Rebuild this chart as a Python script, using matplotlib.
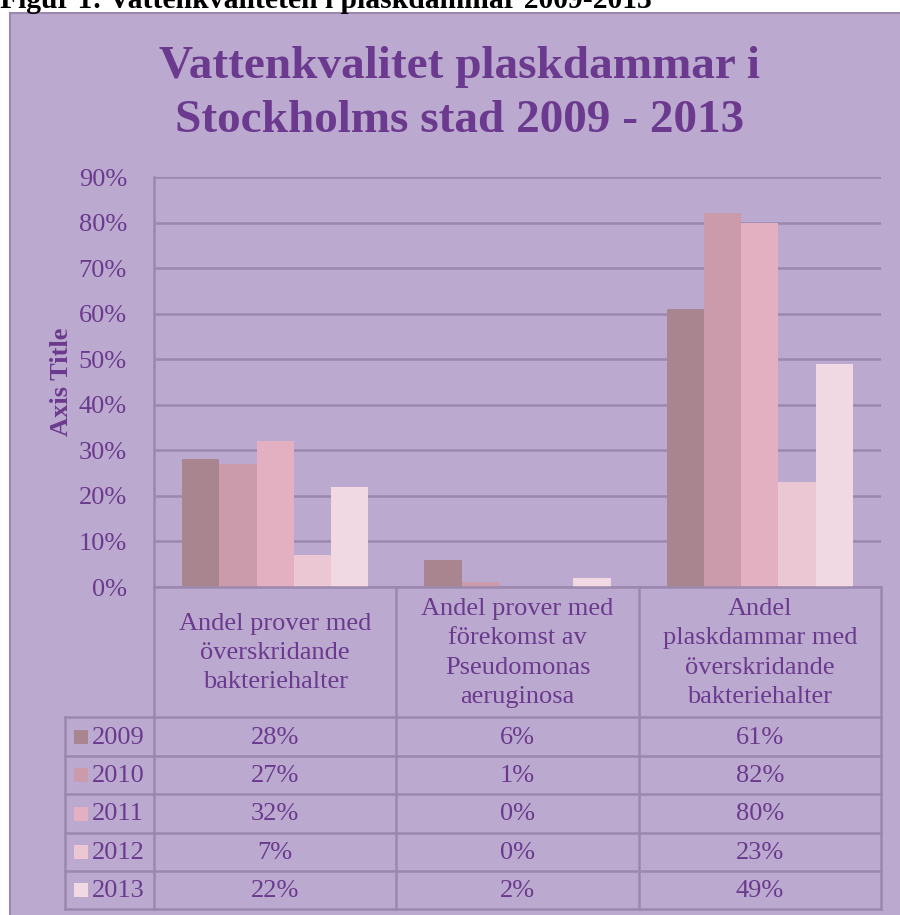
import matplotlib
matplotlib.use("Agg")
import matplotlib.pyplot as plt
from matplotlib.patches import Rectangle
from matplotlib.lines import Line2D
from matplotlib.transforms import blended_transform_factory
import numpy as np

# ---------------- data ----------------
categories = [
    "Andel prover med\növerskridande\nbakteriehalter",
    "Andel prover med\nförekomst av\nPseudomonas\naeruginosa",
    "Andel\nplaskdammar med\növerskridande\nbakteriehalter",
]
years = ["2009", "2010", "2011", "2012", "2013"]
v2009 = [28, 6, 61]
v2010 = [27, 1, 82]
v2011 = [32, 0, 80]
v2012 = [7, 0, 23]
v2013 = [22, 2, 49]
series = [v2009, v2010, v2011, v2012, v2013]
yticks = [0, 10, 20, 30, 40, 50, 60, 70, 80, 90]
chart_title = "Vattenkvalitet plaskdammar i\nStockholms stad 2009 - 2013"
figure_caption = "Figur 1: Vattenkvaliteten i plaskdammar 2009-2013"
axis_title = "Axis Title"

# ---------------- style ----------------
W, H = 900, 915
BG = "#BBA9CF"
GRID = "#9C88AF"
TXT = "#6B3A8E"
colors = ["#A98590", "#CB9BAB", "#E2B0C1", "#EBC6D3", "#F0D9E2"]
FONT = "Liberation Serif"
FS = 19

plt.rcParams["font.family"] = [FONT, "DejaVu Serif"]

fig = plt.figure(figsize=(W / 100, H / 100), dpi=100, facecolor="white")

def fx(px):
    return px / W

def fy(py):
    return 1 - py / H

# chart area background with border
fig.add_artist(Rectangle((fx(9.5), fy(H + 5)), fx(W), (H + 5 - 12.5) / H,
                         transform=fig.transFigure, facecolor=BG,
                         edgecolor=GRID, linewidth=1.5, zorder=0))

# caption above the chart (partly above the top edge, as in the source)
fig.text(fx(0), fy(8), figure_caption, fontsize=21.3, fontweight="bold",
         color="black", ha="left", va="baseline", family=FONT)

# chart title
fig.text(fx(460), fy(94), chart_title, fontsize=34, fontweight="bold",
         color=TXT, ha="center", va="center", linespacing=1.35, family=FONT)

# plot axes
L, R, T, B = 154, 881, 177, 587
ax = fig.add_axes([fx(L), fy(B), fx(R - L), (B - T) / H])
ax.set_facecolor("none")
n = len(categories)
x = np.arange(n)
bw = 0.154
for i, (vals, c) in enumerate(zip(series, colors)):
    ax.bar(x + (i - 2) * bw, vals, width=bw, color=c, zorder=3, linewidth=0)
ax.set_xlim(-0.5, n - 0.5)
ax.set_ylim(0, 90)
ax.set_yticks(yticks)
ax.set_yticklabels([f"{t}%" for t in yticks], fontsize=FS, color=TXT)
ax.tick_params(axis="y", length=0, pad=19.5)
ax.set_xticks([])
ax.yaxis.grid(True, color=GRID, linewidth=1.8, zorder=0)
for s in ["top", "right", "bottom"]:
    ax.spines[s].set_visible(False)
ax.spines["left"].set_color(GRID)
ax.spines["left"].set_linewidth(1.8)
ax.set_ylabel(axis_title, fontsize=FS, fontweight="bold", color=TXT, labelpad=0)
ax.yaxis.set_label_coords((73 - L) / (R - L), 0.5)

# ---------------- data table ----------------
bt = blended_transform_factory(ax.transData, fig.transFigure)
row_edges = [B, 717, 756, 794, 833, 871, 909]
lc = GRID
lw = 1.8
for b in np.arange(-0.5, n, 1.0):
    fig.add_artist(Line2D([b, b], [fy(B), fy(row_edges[-1])], transform=bt,
                          color=lc, lw=lw, zorder=5))
fig.add_artist(Line2D([fx(65), fx(65)], [fy(row_edges[1]), fy(row_edges[-1])],
                      transform=fig.transFigure, color=lc, lw=lw, zorder=5))
fig.add_artist(Line2D([-0.5, n - 0.5], [fy(B), fy(B)], transform=bt,
                      color=lc, lw=lw, zorder=5))
for yy in row_edges[1:]:
    fig.add_artist(Line2D([fx(65), fx(R)], [fy(yy), fy(yy)],
                          transform=fig.transFigure, color=lc, lw=lw, zorder=5))

# header labels
hy = (row_edges[0] + row_edges[1]) / 2
for i, cat in enumerate(categories):
    fig.text(i, fy(hy + 1), cat, transform=bt, ha="center", va="center",
             fontsize=FS, color=TXT, linespacing=1.42, family=FONT)

# rows
for r, (yr, vals, c) in enumerate(zip(years, series, colors)):
    cy = (row_edges[r + 1] + row_edges[r + 2]) / 2
    fig.add_artist(Rectangle((fx(74), fy(cy + 7)), fx(14), 14 / H,
                             transform=fig.transFigure, facecolor=c,
                             edgecolor="none", zorder=6))
    fig.text(fx(92), fy(cy + 1), yr, ha="left", va="center", fontsize=FS,
             color=TXT, family=FONT)
    for i, v in enumerate(vals):
        fig.text(i, fy(cy + 1), f"{v}%", transform=bt, ha="center",
                 va="center", fontsize=FS, color=TXT, family=FONT)

fig.savefig("out.png", dpi=100, facecolor="white")
